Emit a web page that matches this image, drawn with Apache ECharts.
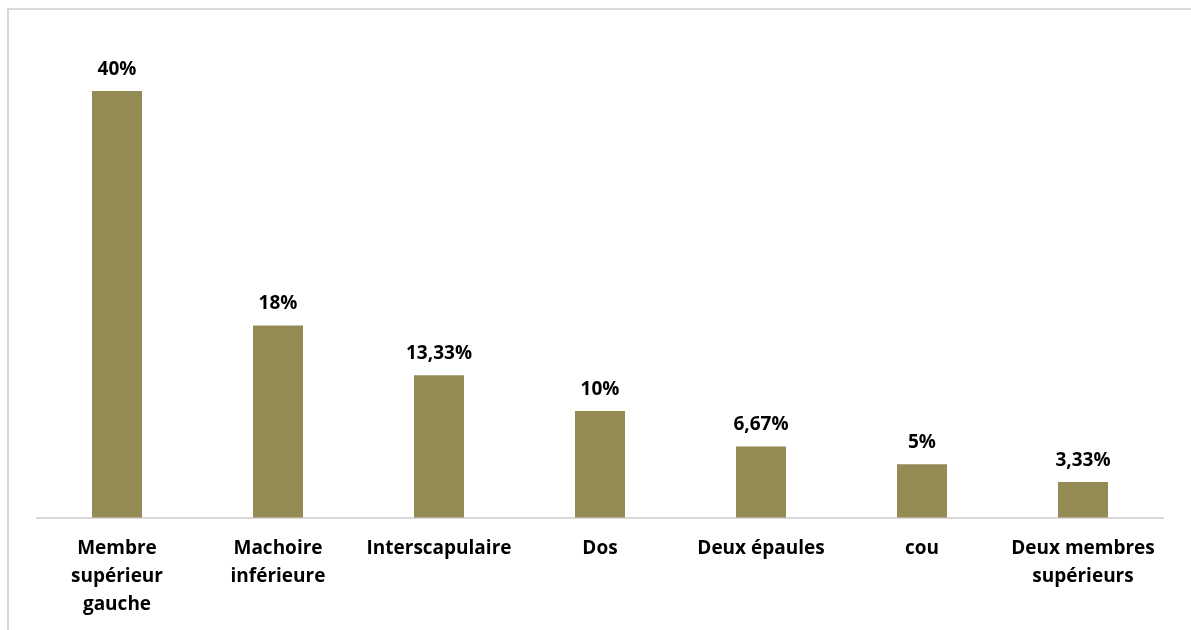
<!DOCTYPE html>
<html>
<head>
<meta charset="utf-8">
<script src="https://cdn.jsdelivr.net/npm/echarts@6/dist/echarts.min.js"></script>
<style>
  html, body { margin: 0; padding: 0; background: #fff; }
  #chart { width: 1191px; height: 630px; }
</style>
</head>
<body>
<div id="chart"></div>
<script>
var categories = ['Membre\nsupérieur\ngauche', 'Machoire\ninférieure', 'Interscapulaire', 'Dos', 'Deux épaules', 'cou', 'Deux membres\nsupérieurs'];
var values = [40, 18, 13.33, 10, 6.67, 5, 3.33];

var mychart = echarts.init(document.getElementById('chart'));
var font = '"Open Sans", sans-serif';

mychart.setOption({
    animation: false,
    graphic: [{
        type: 'rect',
        shape: { x: 8, y: 9, width: 1220, height: 660 },
        style: { fill: 'none', stroke: '#d9d9d9', lineWidth: 2 },
        silent: true
    }],
    grid: { left: 36.5, right: 27.5, top: 37.7, bottom: 112.5 },
    xAxis: {
        type: 'category',
        data: categories,
        axisLine: { lineStyle: { color: '#d9d9d9', width: 2 } },
        axisTick: { show: false },
        axisLabel: {
            interval: 0,
            margin: 17,
            color: '#000',
            fontFamily: font,
            fontWeight: 'bold',
            fontSize: 19,
            lineHeight: 28
        }
    },
    yAxis: {
        type: 'value',
        min: 0,
        max: 45,
        show: false,
        splitLine: { show: false }
    },
    series: [{
        type: 'bar',
        data: values,
        barWidth: 50,
        itemStyle: { color: '#948a54' },
        label: {
            show: true,
            position: 'top',
            distance: 12,
            color: '#000',
            fontFamily: font,
            fontWeight: 'bold',
            fontSize: 19,
            formatter: function (p) {
                return String(p.value).replace('.', ',') + '%';
            }
        }
    }]
});

window.addEventListener('resize', function () {
    mychart.resize();
});
</script>
</body>
</html>
